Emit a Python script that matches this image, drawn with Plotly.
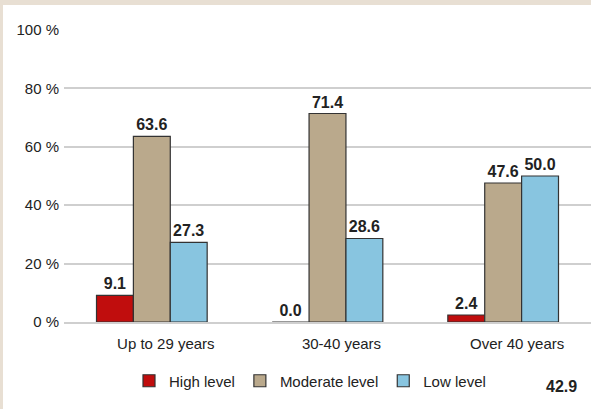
import plotly.graph_objects as go

categories = ["Up to 29 years", "30-40 years", "Over 40 years"]
series_names = ["High level", "Moderate level", "Low level"]
high_level = [9.1, 0.0, 2.4]
moderate_level = [63.6, 71.4, 47.6]
low_level = [27.3, 28.6, 50.0]
y_ticks = [0, 20, 40, 60, 80, 100]
y_tick_labels = ["0 %", "20 %", "40 %", "60 %", "80 %", "100 %"]
stray_label = "42.9"

colors = ["#C00D0D", "#BAA98C", "#88C5E0"]
values = [high_level, moderate_level, low_level]
FONT = "Liberation Sans, Arial, sans-serif"
TXT = "#222222"

fig = go.Figure()
for name, vals, col in zip(series_names, values, colors):
    fig.add_trace(go.Bar(
        x=categories, y=vals, name=name,
        marker=dict(color=col, line=dict(color="#333333", width=1.2)),
        text=[f"{v:.1f}" for v in vals], textposition="outside",
        textfont=dict(family=FONT, size=16, color=TXT),
        texttemplate="<b>%{text}</b>", cliponaxis=False,
    ))

fig.update_layout(
    width=591, height=409,
    barmode="group", bargap=0.37, bargroupgap=0,
    paper_bgcolor="#E8DFD3", plot_bgcolor="white",
    margin=dict(l=64, r=0, t=30, b=87, autoexpand=False),
    font=dict(family=FONT, size=15, color=TXT),
    showlegend=True,
    legend=dict(orientation="h", x=(129 - 64) / 527, xanchor="left", y=-0.202, yanchor="middle",
                bgcolor="rgba(0,0,0,0)", font=dict(family=FONT, size=15, color=TXT),
                itemwidth=30, traceorder="normal"),
    shapes=[dict(type="rect", xref="paper", yref="paper",
                 x0=-61/527, x1=1.0, y0=-87/292, y1=1 + 25/292,
                 fillcolor="white", line=dict(width=0), layer="below")],
    annotations=[dict(text=f"<b>{stray_label}</b>", xref="paper", yref="paper",
                      x=(561 - 64) / 527, y=-(387 - 322) / 292, showarrow=False,
                      font=dict(family=FONT, size=16, color=TXT),
                      xanchor="center", yanchor="middle")],
)
fig.update_yaxes(range=[0, 100], tickvals=y_ticks, ticktext=y_tick_labels,
                 showgrid=True, gridcolor="#CFCFCF", gridwidth=1.5, zeroline=False,
                 showline=False, ticks="outside", ticklen=1, tickcolor="rgba(0,0,0,0)",
                 tickfont=dict(family=FONT, size=15, color=TXT))
fig.update_xaxes(showline=True, linecolor="#CFCFCF", linewidth=1.5, ticks="outside",
                 ticklen=7, tickcolor="rgba(0,0,0,0)", ticklabelshift=14,
                 tickfont=dict(family=FONT, size=15, color=TXT))

fig.write_html("out.html", config={"displayModeBar": False})
with open("out.html", "r", encoding="utf-8") as f:
    html = f.read()
html = html.replace("<head>", "<head><style>html,body{margin:0;padding:0;overflow:hidden}</style>", 1)
with open("out.html", "w", encoding="utf-8") as f:
    f.write(html)
